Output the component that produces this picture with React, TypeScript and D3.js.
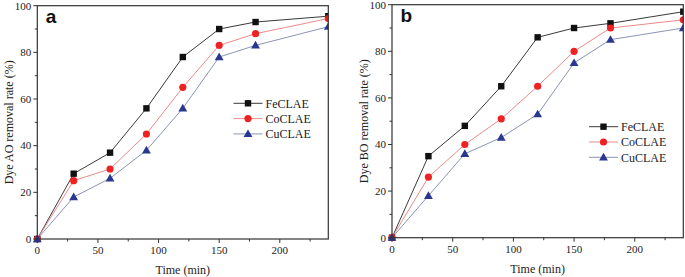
import React from "react";
import * as d3 from "d3";

const times = [0, 30, 60, 90, 120, 150, 180, 240];
const seriesNames = ["FeCLAE", "CoCLAE", "CuCLAE"];

const aoFe = [0, 28, 37, 56, 78, 90, 93, 95.5];
const aoCo = [0, 25, 30, 45, 65, 83, 88, 94.5];
const aoCu = [0, 18, 26, 38, 56, 78, 83, 91];

const boFe = [0, 35, 48, 65, 86, 90, 92, 97];
const boCo = [0, 26, 40, 51, 65, 80, 90, 93.5];
const boCu = [0, 18, 36, 43, 53, 75, 85, 90];

const xMajor = [0, 50, 100, 150, 200];
const xMinor = [25, 75, 125, 175, 225];
const yMajor = [0, 20, 40, 60, 80, 100];
const yMinor = [10, 30, 50, 70, 90];

const styles = [
  { line: "#3a3a3a", fill: "#111111", shape: "square" },
  { line: "#ec8a8a", fill: "#ee2222", shape: "circle" },
  { line: "#8a94b4", fill: "#2a3790", shape: "triangle" },
];

const SERIF = "'Liberation Serif', 'Times New Roman', serif";

function Marker({ x, y, shape, fill }: { x: number; y: number; shape: string; fill: string }) {
  if (shape === "square") return <rect x={x - 3.2} y={y - 3.2} width={6.4} height={6.4} fill={fill} />;
  if (shape === "circle") return <circle cx={x} cy={y} r={3.6} fill={fill} />;
  const p = d3.symbol(d3.symbolTriangle, 34)();
  return <path d={p as string} transform={`translate(${x},${y + 0.6})`} fill={fill} />;
}

function Panel({ left, right, top, bottom, data, ylabel, tag, legend }: any) {
  const x = d3.scaleLinear().domain([0, 240]).range([left, right]);
  const y = d3.scaleLinear().domain([0, 100]).range([bottom, top]);
  const line = d3.line<number>().x((_, i) => x(times[i])).y((v) => y(v));
  const clipId = `clip-${tag}`;
  return (
    <g>
      <defs>
        <clipPath id={clipId}>
          <rect x={left - 6} y={top - 6} width={right - left + 6} height={bottom - top + 12} />
        </clipPath>
      </defs>
      <g clipPath={`url(#${clipId})`}>
        {data.map((vals: number[], si: number) => (
          <path key={si} d={line(vals) as string} fill="none" stroke={styles[si].line} strokeWidth={1} />
        ))}
        {data.map((vals: number[], si: number) =>
          vals.map((v, i) => (
            <Marker key={`${si}-${i}`} x={x(times[i])} y={y(v)} shape={styles[si].shape} fill={styles[si].fill} />
          ))
        )}
      </g>
      <rect x={left} y={top} width={right - left} height={bottom - top} fill="none" stroke="#333" strokeWidth={1.2} />
      {xMajor.map((t) => (
        <g key={`xm${t}`}>
          <line x1={x(t)} x2={x(t)} y1={bottom} y2={bottom + 4} stroke="#333" strokeWidth={1} />
          <text x={x(t)} y={bottom + 15} textAnchor="middle" fontFamily={SERIF} fontSize={11} fill="#222">
            {t}
          </text>
        </g>
      ))}
      {xMinor.map((t) => (
        <line key={`xn${t}`} x1={x(t)} x2={x(t)} y1={bottom} y2={bottom + 2.5} stroke="#333" strokeWidth={1} />
      ))}
      {yMajor.map((t) => (
        <g key={`ym${t}`}>
          <line x1={left - 4} x2={left} y1={y(t)} y2={y(t)} stroke="#333" strokeWidth={1} />
          <text x={left - 6} y={y(t) + 3.8} textAnchor="end" fontFamily={SERIF} fontSize={11} fill="#222">
            {t}
          </text>
        </g>
      ))}
      {yMinor.map((t) => (
        <line key={`yn${t}`} x1={left - 2.5} x2={left} y1={y(t)} y2={y(t)} stroke="#333" strokeWidth={1} />
      ))}
      <text
        x={(left + right) / 2}
        y={bottom + 35}
        textAnchor="middle"
        fontFamily={SERIF}
        fontSize={12}
        fill="#222"
      >
        Time (min)
      </text>
      <text
        transform={`translate(${left - 24},${(top + bottom) / 2}) rotate(-90)`}
        textAnchor="middle"
        fontFamily={SERIF}
        fontSize={12}
        fill="#222"
      >
        {ylabel}
      </text>
      <text
        x={left + 8.5}
        y={top + 17.5}
        fontFamily="'Liberation Sans', Arial, sans-serif"
        fontWeight="bold"
        fontSize={19}
        fill="#111"
      >
        {tag}
      </text>
      {seriesNames.map((name, si) => {
        const ly = legend.y + si * 15.3;
        return (
          <g key={name}>
            <line x1={legend.x} x2={legend.x + 29} y1={ly} y2={ly} stroke={styles[si].line} strokeWidth={1} />
            <Marker x={legend.x + 14.5} y={ly} shape={styles[si].shape} fill={styles[si].fill} />
            <text x={legend.x + 32} y={ly + 4.2} fontFamily={SERIF} fontSize={12} fill="#222">
              {name}
            </text>
          </g>
        );
      })}
    </g>
  );
}

export default function App() {
  return (
    <svg
      width={685}
      height={277}
      style={{ position: "absolute", left: 0, top: 0, background: "#fff" }}
    >
      <Panel
        left={37.3}
        right={328.3}
        top={5.7}
        bottom={239}
        data={[aoFe, aoCo, aoCu]}
        ylabel="Dye AO removal rate (%)"
        tag="a"
        legend={{ x: 233.5, y: 103.3 }}
      />
      <Panel
        left={392}
        right={683.3}
        top={4.7}
        bottom={237.7}
        data={[boFe, boCo, boCu]}
        ylabel="Dye BO removal rate (%)"
        tag="b"
        legend={{ x: 589, y: 126.7 }}
      />
    </svg>
  );
}
